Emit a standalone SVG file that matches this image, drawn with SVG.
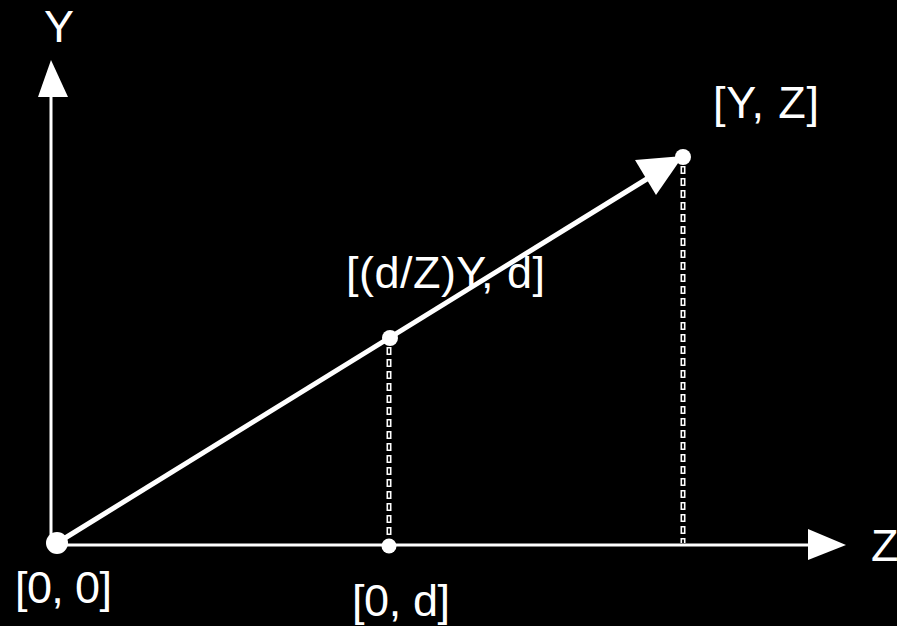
<svg xmlns="http://www.w3.org/2000/svg" width="897" height="626" viewBox="0 0 897 626">
  <style>
    text { font-family: "Liberation Sans", Arial, sans-serif; font-size: 45px; fill: #fff; }
    .axis { stroke: #fff; stroke-width: 3; fill: none; }
    .vec { stroke: #fff; stroke-width: 5; fill: none; }
    .dashO { stroke: #fff; stroke-width: 5; stroke-dasharray: 8 4; fill: none; }
    .dashI { stroke: #000; stroke-width: 1.8; stroke-dasharray: 5 7; stroke-dashoffset: -1.5; fill: none; }
    .pt { fill: #fff; }
  </style>
  <rect width="897" height="626" fill="#000"/>
  <g id="connectors">
    <line class="axis" x1="51" y1="545" x2="51" y2="95"/>
    <polygon class="pt" points="51,60 38,97 68,97"/>
    <line class="axis" x1="57" y1="545" x2="810" y2="545"/>
    <polygon class="pt" points="846,545 808,529 808,560"/>
    <line class="vec" x1="57" y1="543" x2="650" y2="177"/>
    <polygon class="pt" points="683,156 635,160 656,195"/>
    <line class="dashO" x1="389" y1="347" x2="389" y2="544"/>
    <line class="dashI" x1="389" y1="347" x2="389" y2="544"/>
    <line class="dashO" x1="683" y1="166" x2="683" y2="543"/>
    <line class="dashI" x1="683" y1="166" x2="683" y2="543"/>
  </g>
  <g id="origin">
    <circle class="pt" cx="57" cy="543" r="11"/>
    <text x="15" y="603" textLength="97">[0, 0]</text>
  </g>
  <g id="point-0d">
    <circle class="pt" cx="389" cy="546" r="7.5"/>
    <text x="352" y="616" textLength="98">[0, d]</text>
  </g>
  <g id="point-mid">
    <circle class="pt" cx="390" cy="338" r="8"/>
    <text x="346" y="288" textLength="199">[(d/Z)Y, d]</text>
  </g>
  <g id="point-YZ">
    <circle class="pt" cx="683" cy="157" r="8"/>
    <text x="713" y="118" textLength="106">[Y, Z]</text>
  </g>
  <g id="label-Y">
    <text x="44" y="42" font-size="42">Y</text>
  </g>
  <g id="label-Z">
    <text x="871" y="561" font-size="42">Z</text>
  </g>
</svg>
